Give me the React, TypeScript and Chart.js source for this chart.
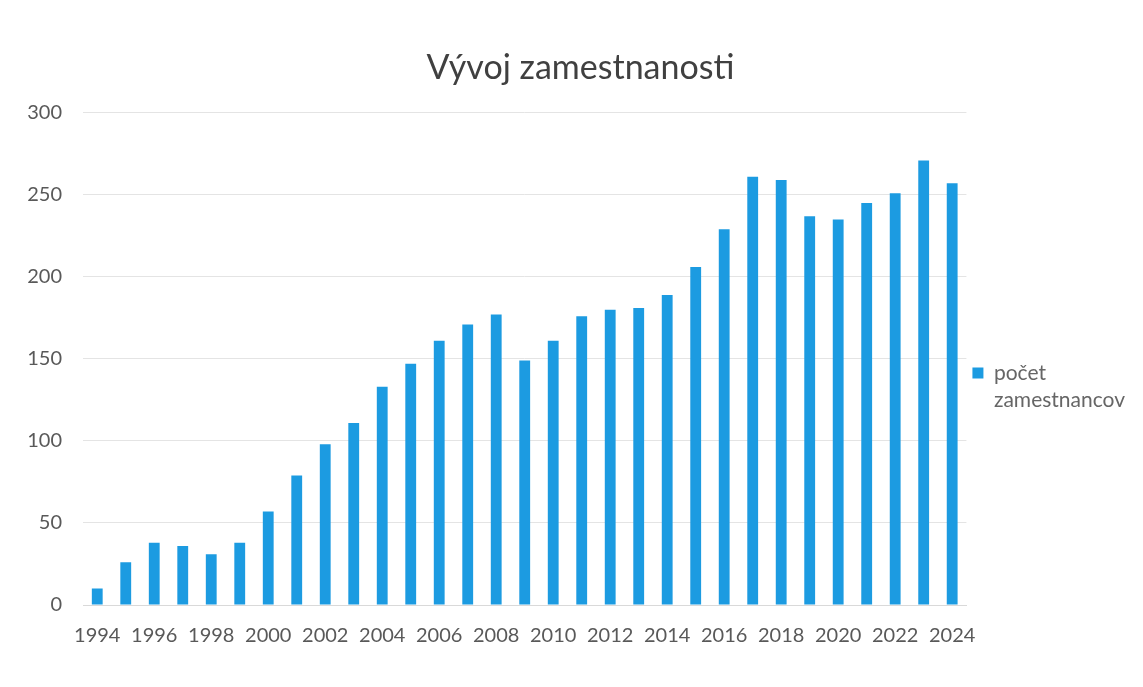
import React, { useEffect, useRef } from "react";
import { Chart, registerables } from "chart.js";

Chart.register(...registerables);

const title = "Vývoj zamestnanosti";
const seriesLabel = ["počet", "zamestnancov"];
const years = [
  "1994", "1995", "1996", "1997", "1998", "1999", "2000", "2001", "2002", "2003",
  "2004", "2005", "2006", "2007", "2008", "2009", "2010", "2011", "2012", "2013",
  "2014", "2015", "2016", "2017", "2018", "2019", "2020", "2021", "2022", "2023", "2024",
];
const employees = [
  10, 26, 38, 36, 31, 38, 57, 79, 98, 111,
  133, 147, 161, 171, 177, 149, 161, 176, 180, 181,
  189, 206, 229, 261, 259, 237, 235, 245, 251, 271, 257,
];
const yTicks = [0, 50, 100, 150, 200, 250, 300];

const BAR = "#1c9be1";
const FONT = "Lato, 'Open Sans', sans-serif";

export default function App() {
  const ref = useRef<HTMLCanvasElement | null>(null);
  useEffect(() => {
    if (!ref.current) return;
    const chart = new Chart(ref.current, {
      type: "bar",
      data: {
        labels: years,
        datasets: [
          {
            label: seriesLabel.join(" "),
            data: employees,
            backgroundColor: BAR,
            borderWidth: 0,
            categoryPercentage: 1,
            barPercentage: 0.38,
          },
        ],
      },
      options: {
        animation: false,
        responsive: true,
        maintainAspectRatio: false,
        layout: { padding: { left: 18, right: 0, top: 40, bottom: 20 } },
        plugins: {
          title: {
            display: true,
            text: title,
            color: "#404040",
            font: { family: FONT, size: 34, weight: "normal" },
            padding: { top: 0, bottom: 24 },
          },
          legend: {
            position: "right",
            align: "center",
            title: {
              display: true,
              text: " ",
              font: { family: FONT, size: 12 },
              padding: { top: 29, bottom: 29 },
            },
            labels: {
              boxWidth: 11,
              boxHeight: 11,
              color: "#595959",
              font: { family: FONT, size: 21, lineHeight: 1.3 },
              padding: 6,
              generateLabels: (c: any) => [
                {
                  text: seriesLabel,
                  fillStyle: BAR,
                  strokeStyle: BAR,
                  lineWidth: 0,
                  hidden: false,
                  datasetIndex: 0,
                },
              ],
            },
          },
          tooltip: { enabled: false },
        },
        scales: {
          x: {
            grid: { display: false },
            border: { display: true, color: "#d9d9d9" },
            ticks: {
              autoSkip: false,
              maxRotation: 0,
              color: "#595959",
              font: { family: FONT, size: 20 },
              padding: 11,
              callback: (_v: any, i: number) => (i % 2 === 0 ? years[i] : ""),
            },
          },
          y: {
            min: 0,
            max: 300,
            afterBuildTicks: (axis: any) => {
              axis.ticks = yTicks.map((v) => ({ value: v }));
            },
            afterFit: (axis: any) => {
              axis.width = 57;
            },
            grid: { color: "#e4e4e4", drawTicks: false },
            border: { display: false },
            ticks: {
              color: "#595959",
              font: { family: FONT, size: 20 },
              padding: 21,
            },
          },
        },
      },
    });
    return () => chart.destroy();
  }, []);
  return (
    <div style={{ width: 1127, height: 671, position: "relative" }}>
      <canvas ref={ref} />
    </div>
  );
}
